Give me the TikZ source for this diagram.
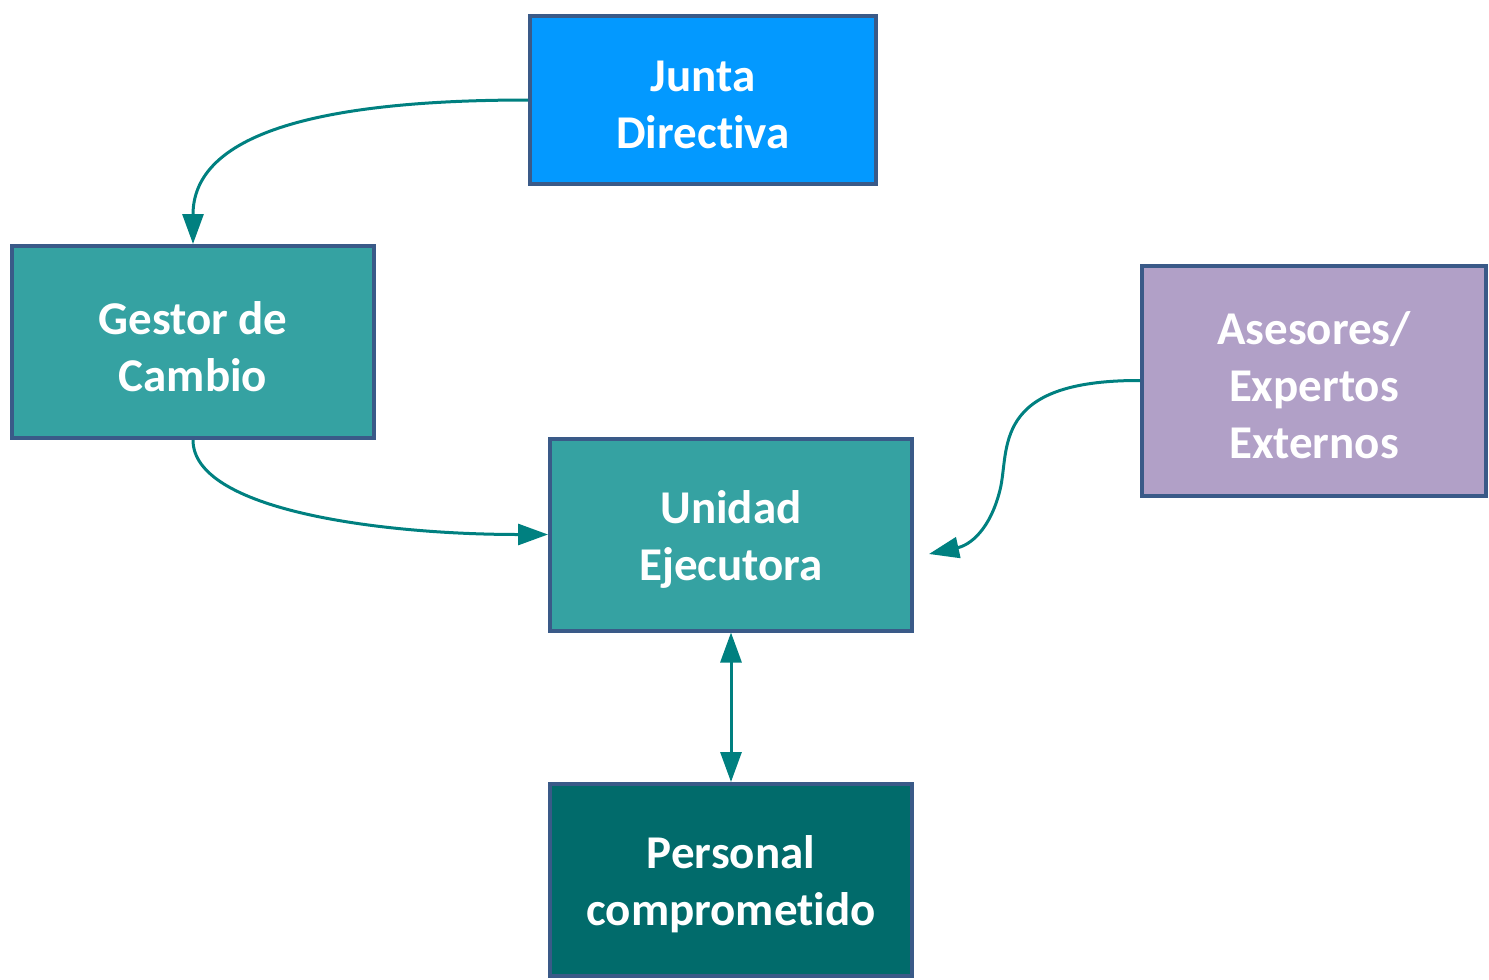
\documentclass[tikz,border=0pt]{standalone}
\usepackage{fontspec}
\setmainfont[Ligatures=NoCommon]{Carlito}
\usetikzlibrary{arrows.meta}
\definecolor{bordc}{HTML}{3A5A88}
\definecolor{juntac}{HTML}{0399FF}
\definecolor{tealc}{HTML}{35A2A2}
\definecolor{lilac}{HTML}{B1A0C7}
\definecolor{darkt}{HTML}{016B6B}
\definecolor{arrc}{HTML}{008080}
\tikzset{
  box/.style={draw=bordc, line width=2pt, inner sep=0pt},
  txt/.style={text=white, align=center, inner sep=0pt,
    font=\fontsize{23.5}{28.5}\selectfont\bfseries},
  conn/.style={draw=arrc, line width=1.5pt, -{Triangle[length=15pt,width=10.5pt]}},
  conn2/.style={draw=arrc, line width=1.5pt, {Triangle[length=15pt,width=10.5pt]}-{Triangle[length=15pt,width=10.5pt]}}
}
\begin{document}
\begin{tikzpicture}[x=0.5pt,y=-0.5pt]
\useasboundingbox (0,0) rectangle (1489,980);
\node[box, fill=juntac, minimum width=173pt, minimum height=84pt] (junta) at (703,100) {};
\node[box, fill=tealc, minimum width=181pt, minimum height=96pt] (gestor) at (193,342) {};
\node[box, fill=tealc, minimum width=181pt, minimum height=96pt] (unidad) at (731,534.5) {};
\node[box, fill=lilac, minimum width=172pt, minimum height=115pt] (asesores) at (1314,380.5) {};
\node[box, fill=darkt, minimum width=181pt, minimum height=96pt] (personal) at (731,880) {};
\node[txt] (juntat) at ([yshift=-2.3pt]junta.center) {Junta\\Directiva};
\node[txt] (gestort) at ([yshift=-2.3pt]gestor.center) {Gestor de\\Cambio};
\node[txt] (unidadt) at ([yshift=-2.3pt]unidad.center) {Unidad\\Ejecutora};
\node[txt] (asesorest) at ([yshift=-2.3pt]asesores.center) {Asesores/\\Expertos\\Externos};
\node[txt] (personalt) at ([yshift=-2.3pt]personal.center) {Personal\\comprometido};
\coordinate (asend) at (929,554);
\draw[conn] (junta.west) .. controls (300,100) and (193,140) .. (gestor.north);
\draw[conn] (gestor.south) .. controls (193,510) and (380,534.5) .. (unidad.west);
\draw[conn] (asesores.west) .. controls (990,380) and (1010,450) .. (1000,490) .. controls (990,530) and (970,545) .. (asend);
\draw[conn2] (unidad.south) -- (personal.north);
\end{tikzpicture}
\end{document}
